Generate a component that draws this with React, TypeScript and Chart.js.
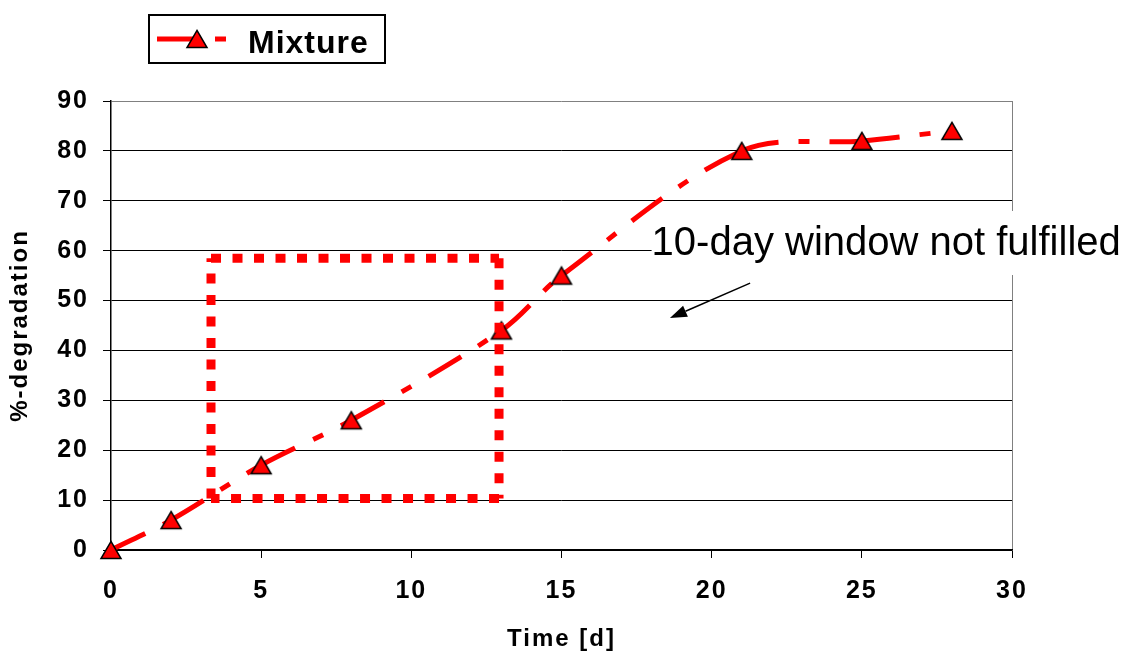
import React, { useEffect, useRef } from "react";
import { Chart, registerables } from "chart.js";

Chart.register(...registerables);

// ---- data ----
const timeDays = [0, 2, 5, 8, 13, 15, 21, 25, 28];
const degradation = [0, 6, 17, 26, 44, 55, 80, 82, 84];
const seriesLabel = "Mixture";

const windowBoxX = [3.33, 3.33, 12.92, 12.92, 3.33];
const windowBoxY = [10.3, 58.5, 58.5, 10.3, 10.3];

const xTickValues = [0, 5, 10, 15, 20, 25, 30];
const yTickValues = [0, 10, 20, 30, 40, 50, 60, 70, 80, 90];

const xTitle = "Time [d]";
const yTitle = "%-degradation";

const annotationText = "10-day window not fulfilled";
const annotationX = 18.0;
const annotationY = 59.13;
const arrowFromX = 21.28;
const arrowFromY = 53.5;
const arrowToX = 18.61;
const arrowToY = 46.5;

const FONT = '"Liberation Sans", Arial, sans-serif';
const RED = "#ff0000";
const LINE_DASH = [38, 20, 11, 20];

function makeTriangle(): HTMLCanvasElement {
  const c = document.createElement("canvas");
  c.width = 24;
  c.height = 22;
  const g = c.getContext("2d")!;
  g.beginPath();
  g.moveTo(12, 2.4);
  g.lineTo(22, 19.6);
  g.lineTo(2, 19.6);
  g.closePath();
  g.fillStyle = RED;
  g.fill();
  g.lineWidth = 1.5;
  g.strokeStyle = "#000";
  g.lineJoin = "miter";
  g.stroke();
  return c;
}

export default function App() {
  const ref = useRef<HTMLCanvasElement | null>(null);

  useEffect(() => {
    if (!ref.current) return;
    const tri = makeTriangle();

    const spacingPlugin = {
      id: "spacing",
      beforeDraw(chart: any) {
        chart.ctx.letterSpacing = "2px";
      },
    };

    const overlayPlugin = {
      id: "overlay",
      afterDraw(chart: any) {
        const { ctx } = chart;
        const xs = chart.scales.x;
        const ys = chart.scales.y;
        ctx.save();
        ctx.letterSpacing = "0px";
        // annotation text with white background
        const tx = xs.getPixelForValue(annotationX);
        const ty = ys.getPixelForValue(annotationY);
        ctx.fillStyle = "#fff";
        ctx.fillRect(tx, ty - 44, chart.width - tx, 64);
        ctx.fillStyle = "#000";
        ctx.font = `40px ${FONT}`;
        ctx.textBaseline = "alphabetic";
        ctx.textAlign = "left";
        ctx.fillText(annotationText, tx, ty);

        // arrow
        const ax0 = xs.getPixelForValue(arrowFromX);
        const ay0 = ys.getPixelForValue(arrowFromY);
        const ax1 = xs.getPixelForValue(arrowToX);
        const ay1 = ys.getPixelForValue(arrowToY);
        const ang = Math.atan2(ay1 - ay0, ax1 - ax0);
        const headLen = 17;
        const headW = 6;
        const bx = ax1 - Math.cos(ang) * headLen;
        const by = ay1 - Math.sin(ang) * headLen;
        ctx.strokeStyle = "#000";
        ctx.lineWidth = 1.5;
        ctx.beginPath();
        ctx.moveTo(ax0, ay0);
        ctx.lineTo(bx, by);
        ctx.stroke();
        ctx.beginPath();
        ctx.moveTo(ax1, ay1);
        ctx.lineTo(bx + Math.sin(ang) * headW, by - Math.cos(ang) * headW);
        ctx.lineTo(bx - Math.sin(ang) * headW, by + Math.cos(ang) * headW);
        ctx.closePath();
        ctx.fillStyle = "#000";
        ctx.fill();

        // legend
        const lx = 148, ly = 14, lw = 238, lh = 50;
        ctx.fillStyle = "#fff";
        ctx.fillRect(lx, ly, lw, lh);
        ctx.strokeStyle = "#000";
        ctx.lineWidth = 2;
        ctx.strokeRect(lx + 1, ly + 1, lw - 2, lh - 2);
        const cy = 39;
        ctx.strokeStyle = RED;
        ctx.lineWidth = 5;
        ctx.lineCap = "butt";
        ctx.setLineDash(LINE_DASH);
        ctx.beginPath();
        ctx.moveTo(157, cy);
        ctx.lineTo(236, cy);
        ctx.stroke();
        ctx.setLineDash([]);
        ctx.drawImage(tri, 197 - tri.width / 2, cy - tri.height / 2);
        ctx.fillStyle = "#000";
        ctx.font = `bold 32px ${FONT}`;
        ctx.letterSpacing = "1px";
        ctx.textBaseline = "alphabetic";
        ctx.fillText(chart.data.datasets[1].label, 248, 53);
        ctx.restore();
      },
    };

    const altOffset = (c: any) => (c.p0DataIndex % 2 ? 0.001 : 0);

    const chart = new Chart(ref.current, {
      type: "line",
      data: {
        datasets: [
          {
            label: "window",
            data: windowBoxX.map((x, i) => ({ x, y: windowBoxY[i] })),
            borderColor: RED,
            borderWidth: 9,
            borderDash: [10, 11.5],
            borderCapStyle: "butt",
            pointRadius: 0,
            pointHoverRadius: 0,
            tension: 0,
            fill: false,
            order: 0,
            clip: false as any,
            segment: { borderDashOffset: altOffset },
          },
          {
            label: seriesLabel,
            data: timeDays.map((x, i) => ({ x, y: degradation[i] })),
            borderColor: RED,
            backgroundColor: RED,
            borderWidth: 5,
            borderDash: LINE_DASH,
            borderCapStyle: "butt",
            tension: 0.33,
            pointStyle: tri as any,
            pointRadius: 10,
            pointHoverRadius: 10,
            fill: false,
            order: 1,
            clip: false as any,
            segment: { borderDashOffset: altOffset },
          },
        ],
      },
      options: {
        animation: false,
        responsive: false,
        devicePixelRatio: 1,
        layout: { padding: { left: 0, top: 101, right: 114, bottom: 0 } },
        plugins: {
          legend: { display: false },
          tooltip: { enabled: false },
        },
        events: [],
        scales: {
          x: {
            type: "linear",
            min: 0,
            max: 30,
            afterBuildTicks: (s: any) => {
              s.ticks = xTickValues.map((v) => ({ value: v }));
            },
            afterFit: (s: any) => {
              s.height = 106;
            },
            ticks: {
              color: "#000",
              font: { family: FONT, size: 25, weight: "bold" },
              padding: 18,
              maxRotation: 0,
              autoSkip: false,
            },
            grid: {
              color: (c: any) => (c.tick && c.tick.value === 30 ? "#808080" : "rgba(0,0,0,0)"),
              tickColor: "#000",
              tickLength: 8,
              lineWidth: 1,
            },
            border: { color: "#000", width: 1.5 },
            title: {
              display: true,
              text: xTitle,
              color: "#000",
              font: { family: FONT, size: 24, weight: "bold" },
              padding: { top: 0, bottom: 2 },
            },
          },
          y: {
            type: "linear",
            min: 0,
            max: 90,
            afterBuildTicks: (s: any) => {
              s.ticks = yTickValues.map((v) => ({ value: v }));
            },
            afterFit: (s: any) => {
              s.width = 111;
            },
            ticks: {
              color: "#000",
              font: { family: FONT, size: 25, weight: "bold" },
              padding: 14,
              autoSkip: false,
            },
            grid: {
              color: (c: any) => (c.tick && c.tick.value === 90 ? "#808080" : "#000"),
              tickColor: "#000",
              tickLength: 8,
              lineWidth: 1,
            },
            border: { color: "#000", width: 1.5 },
            title: {
              display: true,
              text: yTitle,
              color: "#000",
              font: { family: FONT, size: 24, weight: "bold" },
              padding: { top: 6, bottom: 0 },
            },
          },
        },
      } as any,
      plugins: [spacingPlugin, overlayPlugin],
    });

    return () => chart.destroy();
  }, []);

  return (
    <div style={{ position: "absolute", left: 0, top: 0, width: 1126, height: 656, background: "#fff" }}>
      <canvas ref={ref} width={1126} height={656} style={{ display: "block", width: 1126, height: 656 }} />
    </div>
  );
}
